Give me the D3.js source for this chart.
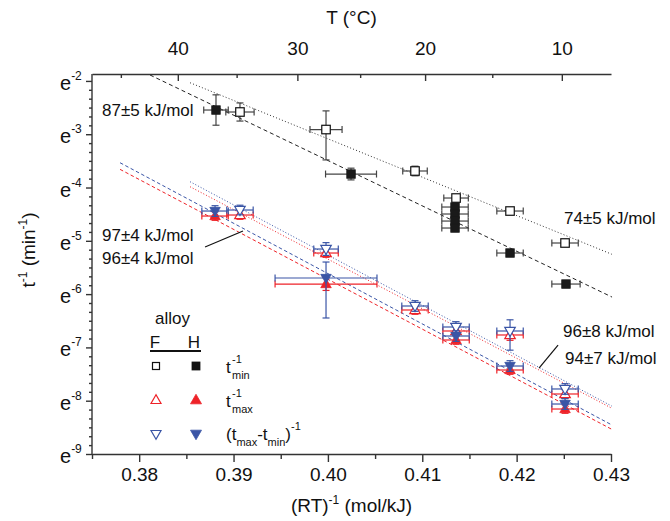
<!DOCTYPE html>
<html><head><meta charset="utf-8">
<script src="https://cdn.jsdelivr.net/npm/d3@7"></script>
<style>
body{margin:0;background:#fff}
svg text{font-family:"Liberation Sans",Arial,Helvetica,sans-serif;fill:#111}
.tick text{font-family:"Liberation Sans Narrow","Liberation Sans",Arial,sans-serif}
</style></head><body>
<svg id="c" width="670" height="521"></svg>
<script>
const R = 0.008314; // kJ/(mol K)
// ---- ticks ----
const xTicks = [0.38, 0.39, 0.40, 0.41, 0.42, 0.43];
const xMinorTicks = [0.375, 0.385, 0.395, 0.405, 0.415, 0.425];
const tTicks = [40, 30, 20, 10];          // °C, top axis
const tMinorTicks = [45, 35, 25, 15];
const yTickExps = [-2, -3, -4, -5, -6, -7, -8, -9];   // e^n

// ---- data: x = (RT)^-1 [mol/kJ], y = ln(t^-1 / min^-1) ----
// alloy F, t_min^-1 (open squares)
const fMinX    = [0.39068, 0.39980, 0.40923, 0.41358, 0.41930, 0.42513];
const fMinY    = [-2.583, -2.912, -3.690, -4.197, -4.441, -5.041];
const fMinXErr = [0.0015, 0.0017, 0.0013, 0.0013, 0.0014, 0.0014];
const fMinYLo  = [0.17, 0.57, 0.09, 0.06, 0.06, 0.06];
const fMinYHi  = [0.17, 0.35, 0.09, 0.06, 0.06, 0.06];
// alloy H, t_min^-1 (filled squares)
const hMinX    = [0.38814, 0.40245, 0.41347, 0.41347, 0.41347, 0.41347, 0.41930, 0.42523];
const hMinY    = [-2.546, -3.747, -4.366, -4.497, -4.629, -4.760, -5.229, -5.811];
const hMinXErr = [0.0013, 0.0027, 0.0014, 0.0014, 0.0014, 0.0014, 0.0014, 0.0015];
const hMinYErr = [0.285, 0.11, 0.05, 0.05, 0.05, 0.05, 0.05, 0.05];
// alloy F, t_max^-1 (red open up-triangles)
const fMaxX    = [0.39068, 0.39980, 0.40923, 0.41358, 0.41930, 0.42513];
const fMaxY    = [-4.516, -5.229, -6.298, -6.692, -6.767, -7.874];
const fMaxXErr = [0.0014, 0.0013, 0.0014, 0.0014, 0.0014, 0.0014];
const fMaxYErr = [0.08, 0.08, 0.08, 0.08, 0.10, 0.08];
// alloy H, t_max^-1 (red filled up-triangles)
const hMaxX    = [0.38804, 0.39980, 0.41358, 0.41930, 0.42513];
const hMaxY    = [-4.535, -5.811, -6.861, -7.424, -8.156];
const hMaxXErr = [0.0014, 0.0054, 0.0014, 0.0014, 0.0014];
const hMaxYErr = [0.08, 0.12, 0.08, 0.08, 0.08];
// alloy F, (t_max - t_min)^-1 (blue open down-triangles)
const fDifX    = [0.39068, 0.39980, 0.40923, 0.41358, 0.41930, 0.42513];
const fDifY    = [-4.422, -5.154, -6.223, -6.617, -6.692, -7.780];
const fDifXErr = [0.0014, 0.0013, 0.0014, 0.0014, 0.0014, 0.0014];
const fDifYLo  = [0.09, 0.12, 0.10, 0.10, 0.36, 0.10];
const fDifYHi  = [0.09, 0.12, 0.10, 0.10, 0.21, 0.10];
// alloy H, (t_max - t_min)^-1 (blue filled down-triangles)
const hDifX    = [0.38804, 0.39980, 0.41358, 0.41930, 0.42513];
const hDifY    = [-4.441, -5.698, -6.786, -7.349, -8.062];
const hDifXErr = [0.0014, 0.0054, 0.0014, 0.0014, 0.0014];
const hDifYLo  = [0.10, 0.75, 0.10, 0.10, 0.10];
const hDifYHi  = [0.10, 0.30, 0.10, 0.10, 0.10];

// ---- Arrhenius fits: ln(t^-1) = lnAtX0 - Ea*(x - x0), drawn from x0 to x1 ----
const fitNames  = ["hMin", "fMin", "hDif", "hMax", "fDif", "fMax"];
const fitEa     = [85.1, 72.0, 94.4, 93.6, 94.2, 93.0];
const fitX0     = [0.38115, 0.38539, 0.37797, 0.37797, 0.38539, 0.38539];
const fitX1     = [0.43011, 0.43008, 0.43008, 0.43008, 0.43008, 0.43008];
const fitLnAtX0 = [-1.889, -2.034, -3.535, -3.659, -3.891, -3.985];
const fitColor  = ["#222", "#333", "#3a55a6", "#ee2228", "#3a55a6", "#ee2228"];
const fitDash   = ["4,3", "1,2.2", "3.5,2.5", "3.5,2.5", "1,2", "1,2"];

// ---- activation energy labels ----
const eaLabels = ["87±5 kJ/mol", "74±5 kJ/mol", "97±4 kJ/mol", "96±4 kJ/mol", "96±8 kJ/mol", "94±7 kJ/mol"];

const W = 670, H = 521;
const m = {l: 92, r: 59, t: 74, b: 67};
const svg = d3.select("#c");
const x = d3.scaleLinear().domain([0.375, 0.43]).range([m.l, W - m.r]);
const y = d3.scaleLog().base(Math.E).domain([Math.exp(-9), Math.exp(-1.87)]).range([H - m.b, m.t]);
const Y = v => y(Math.exp(v));

const RED = "#ee2228", BLUE = "#3a55a6";

// fits
const gFit = svg.append("g");
fitNames.forEach((n, i) => {
  gFit.append("line")
    .attr("x1", x(fitX0[i])).attr("y1", Y(fitLnAtX0[i]))
    .attr("x2", x(fitX1[i])).attr("y2", Y(fitLnAtX0[i] - fitEa[i] * (fitX1[i] - fitX0[i])))
    .attr("stroke", fitColor[i]).attr("stroke-width", 1).attr("stroke-dasharray", fitDash[i]);
});

// series drawing
function drawSeries(xs, ys, xErr, yLo, yHi, color, errColor, shape, filled) {
  const g = svg.append("g");
  const cap = 3.5;
  xs.forEach((xv, i) => {
    const cx = x(xv), cy = Y(ys[i]);
    const xl = x(xv - xErr[i]), xr = x(xv + xErr[i]);
    const yt = Y(ys[i] + yHi[i]), yb = Y(ys[i] - yLo[i]);
    const e = g.append("g").attr("stroke", errColor).attr("stroke-width", 1.2).attr("fill", "none");
    e.append("line").attr("x1", xl).attr("x2", xr).attr("y1", cy).attr("y2", cy);
    e.append("line").attr("x1", xl).attr("x2", xl).attr("y1", cy - cap).attr("y2", cy + cap);
    e.append("line").attr("x1", xr).attr("x2", xr).attr("y1", cy - cap).attr("y2", cy + cap);
    e.append("line").attr("x1", cx).attr("x2", cx).attr("y1", yt).attr("y2", yb);
    e.append("line").attr("x1", cx - cap).attr("x2", cx + cap).attr("y1", yt).attr("y2", yt);
    e.append("line").attr("x1", cx - cap).attr("x2", cx + cap).attr("y1", yb).attr("y2", yb);
  });
  xs.forEach((xv, i) => {
    marker(g, x(xv), Y(ys[i]), shape, color, filled, shape === "square" ? 8.5 : 10.5);
  });
}
function marker(g, cx, cy, shape, color, filled, s) {
  let p;
  if (shape === "square") {
    p = g.append("rect").attr("x", cx - s / 2).attr("y", cy - s / 2).attr("width", s).attr("height", s);
  } else {
    const h = s * 0.87;
    const pts = shape === "up"
      ? [[cx, cy - h * 0.6], [cx - s / 2, cy + h * 0.4], [cx + s / 2, cy + h * 0.4]]
      : [[cx, cy + h * 0.6], [cx - s / 2, cy - h * 0.4], [cx + s / 2, cy - h * 0.4]];
    p = g.append("polygon").attr("points", pts.map(d => d.join(",")).join(" "));
  }
  p.attr("fill", filled ? color : "#fff").attr("stroke", color).attr("stroke-width", filled ? 0.8 : 1.2);
  return p;
}
drawSeries(fMinX, fMinY, fMinXErr, fMinYLo, fMinYHi, "#111", "#444", "square", false);
drawSeries(hMinX, hMinY, hMinXErr, hMinYErr, hMinYErr, "#1a1a1a", "#444", "square", true);
drawSeries(fMaxX, fMaxY, fMaxXErr, fMaxYErr, fMaxYErr, RED, RED, "up", false);
drawSeries(hMaxX, hMaxY, hMaxXErr, hMaxYErr, hMaxYErr, RED, RED, "up", true);
drawSeries(fDifX, fDifY, fDifXErr, fDifYLo, fDifYHi, BLUE, BLUE, "down", false);
drawSeries(hDifX, hDifY, hDifXErr, hDifYLo, hDifYHi, BLUE, BLUE, "down", true);

// ---- axes ----
const axisStyle = g => {
  g.selectAll("path,line").attr("stroke", "#333").attr("stroke-width", 1.4);
  g.selectAll("text").attr("font-size", 19).attr("fill", "#111");
};
// bottom
svg.append("g").attr("transform", `translate(0,${H - m.b})`)
  .call(d3.axisBottom(x).tickValues(xTicks).tickFormat(d3.format(".2f")).tickSize(8).tickPadding(6).tickSizeOuter(0))
  .call(axisStyle);
svg.append("g").attr("transform", `translate(0,${H - m.b})`)
  .call(d3.axisBottom(x).tickValues(xMinorTicks).tickFormat("").tickSize(5).tickSizeOuter(0))
  .call(g => g.select(".domain").remove()).call(axisStyle);
// top (°C), ticks inward
const invT = c => 1 / (R * (c + 273.15));
svg.append("g").attr("transform", `translate(0,${m.t})`)
  .call(d3.axisTop(x).tickValues(tTicks.map(invT)).tickFormat(v => Math.round(1 / (R * v) - 273.15)).tickSize(-7).tickPadding(19).tickSizeOuter(0))
  .call(axisStyle);
svg.append("g").attr("transform", `translate(0,${m.t})`)
  .call(d3.axisTop(x).tickValues(tMinorTicks.map(invT)).tickFormat("").tickSize(-4).tickSizeOuter(0))
  .call(g => g.select(".domain").remove()).call(axisStyle);
// left (e^n)
const gl = svg.append("g").attr("transform", `translate(${m.l},0)`)
  .call(d3.axisLeft(y).tickValues(yTickExps.map(Math.exp)).tickFormat("").tickSize(6).tickSizeOuter(0))
  .call(axisStyle);
gl.select(".domain").attr("d", `M0,${m.t}V${H - m.b}`);
const yMinor = [];
for (let k = -9; k < -1.87 - 1e-9; k += 1 / 6) { if (Math.abs(k - Math.round(k)) > 1e-6) yMinor.push(Math.exp(k)); }
svg.append("g").attr("transform", `translate(${m.l},0)`)
  .call(d3.axisLeft(y).tickValues(yMinor).tickFormat("").tickSize(3).tickSizeOuter(0))
  .call(g => g.select(".domain").remove()).call(axisStyle);
yTickExps.forEach(n => {
  const t = svg.append("text").attr("x", 60).attr("y", Y(n) + 9).attr("font-size", 20)
    .style("font-family", '"Liberation Sans Narrow","Liberation Sans",Arial,sans-serif');
  t.append("tspan").text("e");
  t.append("tspan").attr("dy", -10).attr("font-size", 12).text(String(n));
});

// axis titles
svg.append("text").attr("x", (m.l + W - m.r) / 2).attr("y", 24).attr("text-anchor", "middle").attr("font-size", 19)
  .text("T (°C)");
const xt = svg.append("text").attr("x", (m.l + W - m.r) / 2).attr("y", 512).attr("text-anchor", "middle").attr("font-size", 19);
xt.append("tspan").text("(RT)");
xt.append("tspan").attr("dy", -8).attr("font-size", 12).text("-1");
xt.append("tspan").attr("dy", 8).text(" (mol/kJ)");
const yt = svg.append("text").attr("transform", `translate(35,250) rotate(-90)`).attr("text-anchor", "middle").attr("font-size", 19);
yt.append("tspan").text("t");
yt.append("tspan").attr("dy", -8).attr("font-size", 12).text("-1");
yt.append("tspan").attr("dy", 8).text(" (min");
yt.append("tspan").attr("dy", -8).attr("font-size", 12).text("-1");
yt.append("tspan").attr("dy", 8).text(")");

// Ea labels
const labPos = [[102, 116], [564, 224], [102, 241], [102, 264], [563, 337], [565, 364]];
eaLabels.forEach((s, i) => {
  svg.append("text").attr("x", labPos[i][0]).attr("y", labPos[i][1]).attr("font-size", 17).text(s);
});
// leader lines (data coordinates)
const leaders = [[0.38698, -5.116, 0.3910, -4.816], [0.42237, -7.387, 0.42439, -6.955]];
leaders.forEach(l => svg.append("line").attr("x1", x(l[0])).attr("y1", Y(l[1])).attr("x2", x(l[2])).attr("y2", Y(l[3]))
  .attr("stroke", "#111").attr("stroke-width", 1.2));

// legend
const lg = svg.append("g");
lg.append("text").attr("x", 155).attr("y", 324).attr("font-size", 17).text("alloy");
lg.append("text").attr("x", 155).attr("y", 348).attr("font-size", 17).attr("text-anchor", "middle").text("F");
lg.append("text").attr("x", 194).attr("y", 348).attr("font-size", 17).attr("text-anchor", "middle").text("H");
lg.append("line").attr("x1", 150).attr("x2", 201).attr("y1", 351).attr("y2", 351).attr("stroke", "#111").attr("stroke-width", 2);
const legRows = [
  {y: 366, shape: "square", color: "#111", s: 7},
  {y: 400, shape: "up", color: RED, s: 10},
  {y: 434, shape: "down", color: BLUE, s: 10}
];
legRows.forEach(r => {
  marker(lg, 156, r.y, r.shape, r.color, false, r.s);
  marker(lg, 196, r.y, r.shape, r.color, true, r.s + 1);
});
function supSub(xp, yb, sup, sub) {
  lg.append("text").attr("x", xp).attr("y", yb - 10).attr("font-size", 11).text(sup);
  lg.append("text").attr("x", xp).attr("y", yb + 6).attr("font-size", 11).text(sub);
}
lg.append("text").attr("x", 226).attr("y", 373).attr("font-size", 17).text("t");
supSub(232, 373, "-1", "min");
lg.append("text").attr("x", 226).attr("y", 407).attr("font-size", 17).text("t");
supSub(232, 407, "-1", "max");
const r3 = lg.append("text").attr("x", 226).attr("y", 440).attr("font-size", 17);
r3.append("tspan").text("(t");
r3.append("tspan").attr("dy", 6).attr("font-size", 11).text("max");
r3.append("tspan").attr("dy", -6).text("-t");
r3.append("tspan").attr("dy", 6).attr("font-size", 11).text("min");
r3.append("tspan").attr("dy", -6).text(")");
r3.append("tspan").attr("dy", -10).attr("font-size", 11).text("-1");
</script></body></html>
